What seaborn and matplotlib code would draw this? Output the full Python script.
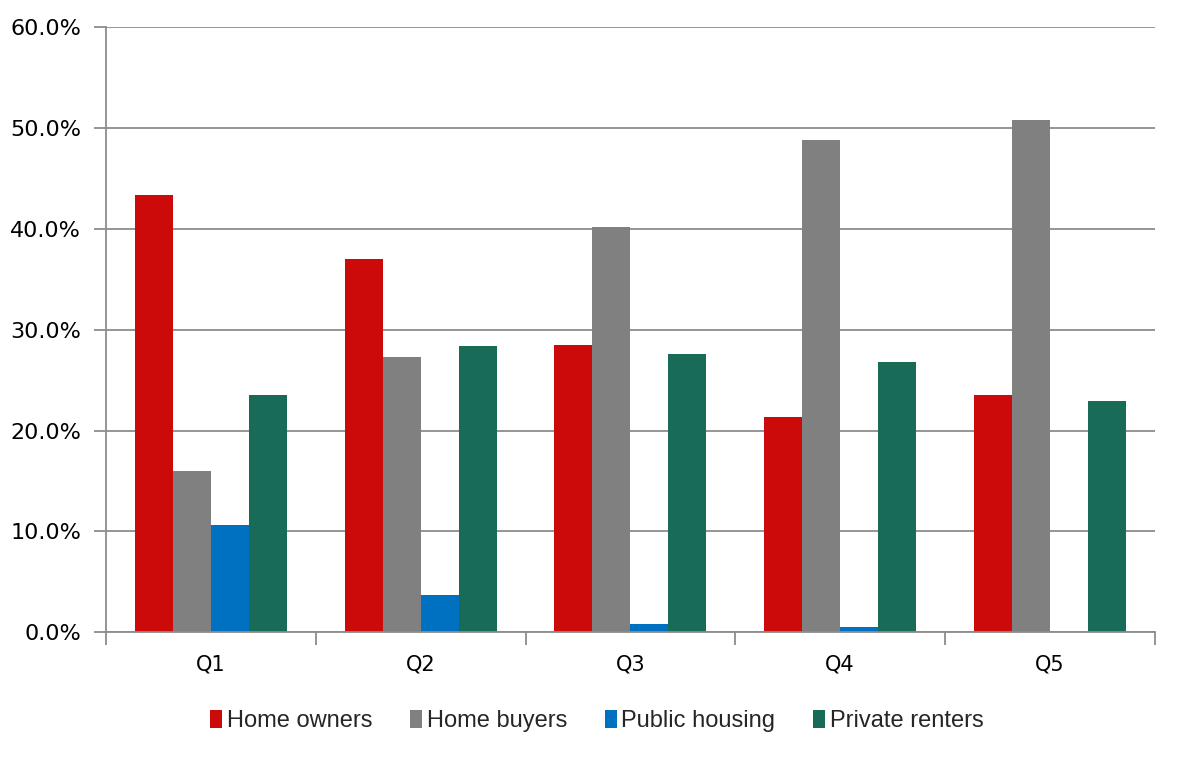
import matplotlib
matplotlib.use("Agg")
import matplotlib.pyplot as plt
import seaborn as sns
import pandas as pd
from matplotlib.ticker import FuncFormatter, MultipleLocator
from matplotlib.patches import Patch

quintiles = ["Q1", "Q2", "Q3", "Q4", "Q5"]
series_names = ["Home owners", "Home buyers", "Public housing", "Private renters"]
home_owners = [43.3, 37.0, 28.5, 21.3, 23.5]
home_buyers = [16.0, 27.3, 40.2, 48.8, 50.8]
public_housing = [10.6, 3.7, 0.8, 0.5, 0.0]
private_renters = [23.5, 28.4, 27.6, 26.8, 22.9]
colors = ["#CC0A0A", "#808080", "#0070C0", "#176B57"]

rows = []
for name, vals in zip(series_names, [home_owners, home_buyers, public_housing, private_renters]):
    for q, v in zip(quintiles, vals):
        rows.append({"Quintile": q, "Series": name, "Value": v})
df = pd.DataFrame(rows)

sns.set_theme(style="white")
plt.rcParams["font.family"] = ["DejaVu Sans"]

fig = plt.figure(figsize=(11.82, 7.6), dpi=100)
ax = fig.add_axes([0.0897, 0.168, 0.977 - 0.0897, 0.9645 - 0.168])

sns.barplot(data=df, x="Quintile", y="Value", hue="Series", order=quintiles,
            hue_order=series_names, palette=colors, width=0.724, saturation=1,
            errorbar=None, ax=ax, legend=False, linewidth=0)

ax.set_xlim(-0.5, 4.5)
ax.set_ylim(0, 60)
ax.yaxis.set_major_locator(MultipleLocator(10))
ax.yaxis.set_major_formatter(FuncFormatter(lambda v, p: f"{v:.1f}%"))
ax.grid(axis="y", color="#8C8C8C", linewidth=1.3)
ax.set_axisbelow(True)
ax.set_xlabel("")
ax.set_ylabel("")

for s in ["top", "right"]:
    ax.spines[s].set_visible(False)
for s in ["left", "bottom"]:
    ax.spines[s].set_color("#8C8C8C")
    ax.spines[s].set_linewidth(1.3)

ax.set_xticks([0, 1, 2, 3, 4])
ax.set_xticks([-0.5, 0.5, 1.5, 2.5, 3.5, 4.5], minor=True)
ax.tick_params(axis="x", which="major", bottom=True, length=0, labelsize=15, pad=16, colors="black")
ax.tick_params(axis="x", which="minor", bottom=True, length=9, width=1.3, color="#8C8C8C", direction="out")
ax.tick_params(axis="y", which="major", left=True, length=9, width=1.3, color="#8C8C8C", direction="out",
               labelsize=16, pad=9)
for lbl in ax.get_yticklabels() + ax.get_xticklabels():
    lbl.set_color("black")

handles = [Patch(facecolor=c, edgecolor="none") for c in colors]
fig.legend(handles, series_names, loc="center", bbox_to_anchor=(0.505, 0.051), ncol=4,
           frameon=False, prop={"family": "Liberation Sans", "size": 17},
           handlelength=0.5, handleheight=0.8, handletextpad=0.2, columnspacing=1.6)

fig.savefig("out.png", dpi=100)
